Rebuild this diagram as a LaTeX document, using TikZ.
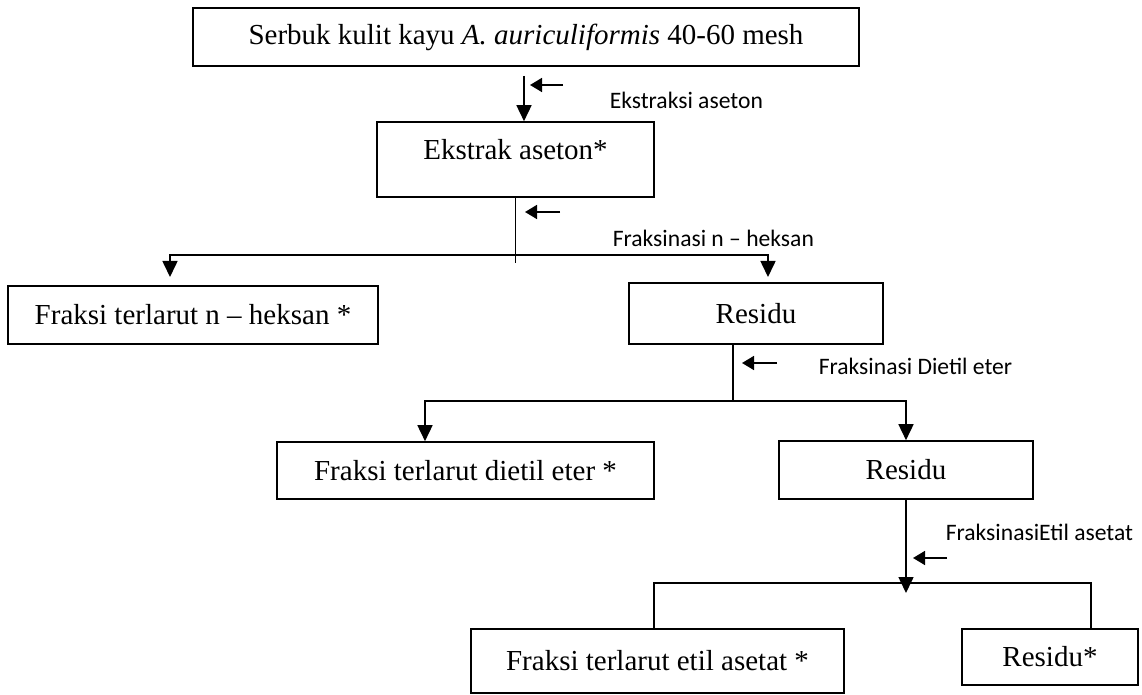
\documentclass[tikz,border=0pt]{standalone}
\usepackage{fontspec}
\setmainfont{Liberation Serif}
\newfontfamily\calfont{Carlito}
\usetikzlibrary{arrows.meta}

\begin{document}
\begin{tikzpicture}[x=0.5pt, y=-0.5pt, line width=0.8pt,
  >={Triangle[length=8pt, width=7.5pt]},
  box/.style={draw, inner sep=0pt, font=\fontsize{14.5}{17}\selectfont},
  note/.style={anchor=west, inner sep=0pt, font=\calfont\fontsize{11.8}{14}\selectfont},
  side/.style={->, >={Triangle[length=6pt, width=7pt]}}]
  \useasboundingbox (0,0) rectangle (1142,695);
  \node(serbuk)[box, minimum width=333pt, minimum height=29pt] at (526,37) {Serbuk kulit kayu \textit{A. auriculiformis} 40-60 mesh};
  \node(ekstrak)[box, minimum width=138.5pt, minimum height=37.5pt, text height=10pt, text depth=10pt] at (515.5,159.5) {Ekstrak aseton*};
  \node(heksan)[box, minimum width=185pt, minimum height=29pt] at (193,315) {Fraksi terlarut n – heksan *};
  \node(residu1)[box, minimum width=127pt, minimum height=30.5pt] at (756,313.5) {Residu};
  \node(dietil)[box, minimum width=188.5pt, minimum height=28.5pt] at (465.5,470.5) {Fraksi terlarut dietil eter *};
  \node(residu2)[box, minimum width=127pt, minimum height=29pt] at (906,470) {Residu};
  \node(etil)[box, minimum width=186.5pt, minimum height=32pt] at (657.5,661) {Fraksi terlarut etil asetat *};
  \node(residu3)[box, minimum width=88pt, minimum height=28pt] at (1050,657) {Residu*};

  \node(ekstraksi)[note] at (609,100) {Ekstraksi aseton};
  \node(fraksheksan)[note] at (612,238) {Fraksinasi n – heksan};
  \node(fraksdietil)[note] at (818,366) {Fraksinasi Dietil eter};
  \node(fraksetil)[note] at (945,532) {FraksinasiEtil asetat};

  \coordinate(t1) at (524,76);
  \draw[->] (t1) -- (t1 |- ekstrak.north);
  \coordinate(s1) at (563,85);
  \coordinate(s1e) at (530,85);
  \draw[side] (s1) -- (s1e);

  \coordinate(j1) at (515.5,263);
  \coordinate(h1l) at (170,255);
  \coordinate(h1r) at (768,255);
  \coordinate(e1l) at (170,277);
  \coordinate(e1r) at (768,277);
  \draw (ekstrak.south) -- (j1);
  \draw[<->] (e1l) -- (h1l) -- (h1r) -- (e1r);
  \coordinate(s2) at (560,212);
  \coordinate(s2e) at (525,212);
  \draw[side] (s2) -- (s2e);

  \coordinate(j2) at (733,401);
  \coordinate(h2l) at (425,401);
  \coordinate(h2r) at (906,401);
  \draw (j2 |- residu1.south) -- (j2);
  \draw[<->] (h2l |- dietil.north) -- (h2l) -- (h2r) -- (residu2.north);
  \coordinate(s3) at (777,363);
  \coordinate(s3e) at (742,363);
  \draw[side] (s3) -- (s3e);

  \coordinate(j3) at (906,593);
  \coordinate(h3l) at (654,583);
  \coordinate(h3r) at (1091,583);
  \draw[->] (residu2.south) -- (j3);
  \draw (h3l |- etil.north) -- (h3l) -- (h3r) -- (h3r |- residu3.north);
  \coordinate(s4) at (947,558);
  \coordinate(s4e) at (913,558);
  \draw[side] (s4) -- (s4e);
\end{tikzpicture}
\end{document}
